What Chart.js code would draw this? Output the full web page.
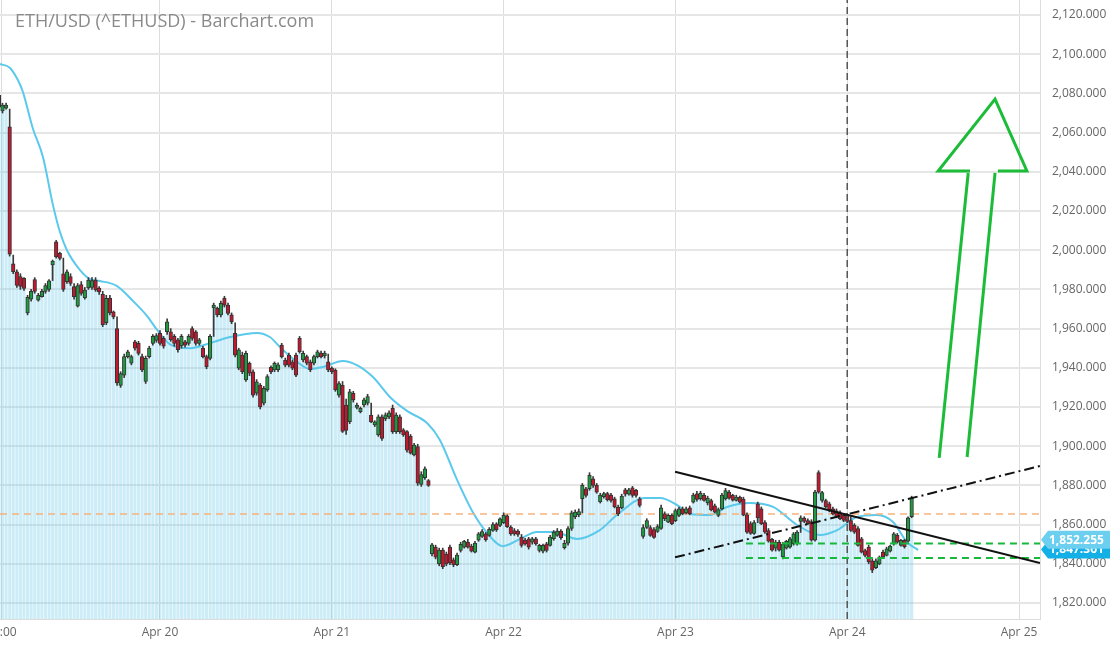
<!DOCTYPE html>
<html><head><meta charset="utf-8">
<script src="https://cdn.jsdelivr.net/npm/chart.js@4.4.1/dist/chart.umd.min.js"></script>
<style>html,body{margin:0;padding:0;background:#fff;overflow:hidden}#wrap{width:1110px;height:645px;position:relative}</style>
</head><body><div id="wrap"><canvas id="c"></canvas></div>
<script>
const chartTitle = 'ETH/USD (^ETHUSD) - Barchart.com';
// 30-minute candles, index 0 = Apr 20 00:00
const firstIndex = -45;
const opens = [
2079,2071,2072.5,2063,1993,1989,1986.5,1985.6,1968,1975,
1985,1974.5,1976.3,1979,1980,1992.5,2004.3,1998.4,1988,1984,
1986.5,1981.4,1971.5,1982.5,1975.6,1980.7,1981,1984.8,1980.7,1977.5,
1963,1975.6,1968.6,1960,1931,1936.3,1945.7,1942.3,1953.3,1952.5,
1945.7,1933,1945.7,1952.5,1954,1957.6,1955,1958.4,1958.4,1956,
1954.3,1951.2,1953.3,1952.5,1960,1958.4,1952.5,1950,1945.7,1944.8,
1970.5,1970.4,1967,1975.5,1972,1967,1957.6,1939.8,1946.5,1933.8,
1942.3,1938,1927,1931.2,1921.9,1928.7,1940.2,1938.9,1939,1951.6,
1944,1946.5,1943.1,1946.5,1955,1944,1945.7,1943.1,1942.3,1945.7,
1947.5,1946,1943.1,1939.8,1938.9,1926.1,1931,1921,1912.5,1927,
1919.8,1917.6,1921,1921.9,1915.9,1910.8,1905.7,1915,1914,1915,
1919.3,1907.4,1915,1908.3,1907.4,1905,1895.5,1899.8,1880.5,1884,
1882.5,1845,1848.5,1840,1847,1845,1848.5,1842,1839.5,1846.8,
1848.5,1851,1849,1846,1852,1854,1855.3,1854.5,1857,1860.4,
1859.6,1861,1864.5,1858.7,1857,1856.7,1853.6,1852,1852.8,1851,
1852.8,1846.8,1846.5,1850.2,1849.4,1852.8,1854.5,1856.7,1848.2,1850.5,
1858,1864,1865,1873.2,1878.3,1878.3,1883.4,1880,1871.6,1874.2,
1875.8,1875,1873.2,1869,1868.5,1877.8,1875.5,1878.7,1877.5,1873.2,
1854,1858.5,1858.5,1857.5,1856.5,1858,1865.5,1861.3,1864.7,1862,
1864.7,1868,1866,1868.5,1871.5,1875.7,1873.2,1874.9,1871,1872.3,
1869.6,1864.7,1868,1873.2,1876.5,1874.9,1872.3,1874,1873,1865,
1860.5,1855.5,1870.6,1868,1861,1857,1852.5,1848,1851,1843.5,
1848,1848.5,1850.2,1850.2,1861.6,1863.3,1862,1861.6,1852,1886.5,
1872.3,1872.3,1870.6,1868,1867,1866,1864.7,1864.7,1862,1859.6,
1858,1852.8,1846.8,1848.5,1841.5,1838,1840,1846,1844.3,1846.5,
1850.2,1854.5,1849.4,1852,1851.5,1864];
const highs = [
2080,2075,2075,2072,1997.5,1990,1988,1986,1977,1980,
1986,1978,1980,1983,1985,1995,2005,1999,1996,1990,
1988,1983,1983,1984,1981,1986,1986,1986,1981.5,1979,
1977,1977,1969,1966,1938,1947,1949,1946.5,1954,1953.5,
1947,1946,1951,1957,1957.5,1959,1956,1965,1960,1957,
1955,1957,1954,1957,1961,1959,1955,1951,1946.5,1957,
1973,1971,1974,1976.5,1973,1968,1963,1950,1948,1948.5,
1943,1939,1934,1932,1930.5,1936.5,1941,1943,1942.5,1952.5,
1945,1947.5,1944,1947.5,1956,1948.5,1946.5,1944,1946.5,1949,
1948.5,1948.5,1947,1940.5,1939.5,1933,1933,1924,1929,1928,
1922,1920,1924.5,1926.5,1922,1913,1916,1916,1917,1918,
1921,1917,1916,1909,1908,1906,1901.5,1901,1887,1889.5,
1883,1850.5,1849.5,1848,1848,1846,1849.5,1843,1845.5,1851,
1852,1852.5,1850,1851.5,1856,1857.5,1856,1858.5,1861,1861,
1863.5,1866,1865,1859.5,1858,1857.5,1855,1853,1853.5,1853.5,
1853.5,1850,1850,1851,1854.5,1857,1858,1857.5,1852,1859,
1867,1867.5,1868,1881,1879,1886.5,1884.5,1881,1876,1876.5,
1876.5,1876,1874,1870,1875.5,1878.5,1878.5,1879.5,1878,1874,
1860,1863,1859.5,1858.5,1860,1870,1866.5,1865.5,1865.5,1868,
1869,1869,1869,1869.5,1876,1877,1877,1876,1874.5,1873,
1870.5,1868.5,1876,1878.5,1877.5,1875.5,1875,1874.5,1874,1866,
1861.5,1862,1871.5,1869,1862,1858,1853,1852,1852,1851,
1852,1853.5,1856,1857,1864.5,1864,1863,1862.5,1877.5,1887.5,
1877,1873,1871.5,1869,1868,1867,1865.5,1865.5,1864,1860.5,
1859,1853.5,1847.5,1849.5,1842.5,1842.5,1844,1847,1848.5,1849.5,
1856,1855.5,1852.5,1852.5,1864,1874.5];
const lows = [
2072,2070,2072,1997,1988,1981,1980,1979.5,1967,1974,
1978,1974,1976,1978,1979,1984.5,1996,1995,1979,1983,
1982,1975,1971,1977,1975,1980,1980,1979,1977.5,1961,
1962,1967,1965,1931,1930,1935,1945,1941.5,1949,1946.5,
1938,1932,1945,1951.5,1953,1951.5,1950,1957,1953.5,1951,
1948,1950,1950.5,1951.5,1954,1951.5,1951.5,1945,1939.5,1944,
1956,1966,1966,1971,1967,1962.5,1945.5,1939,1937,1933,
1936,1925,1926,1919,1921,1928,1937,1938,1938,1945,
1940.5,1940.5,1939,1935.5,1947.5,1943,1941.5,1938,1941.5,1945,
1945,1945,1938,1937,1928,1925,1907,1906,1911.5,1922.5,
1919,1917,1920,1921,1912,1910,1905,1903,1913,1914,
1906.5,1906.5,1906.5,1905,1897,1896,1895,1880,1879.5,1883,
1879.5,1844,1842.5,1839,1837.5,1839,1839.5,1838.5,1839,1846,
1848,1848,1846,1845.5,1851.5,1853.5,1851.5,1854,1856.5,1856.5,
1859,1860.5,1858.5,1854.5,1854.5,1854,1848.5,1849.5,1847.5,1850,
1849.5,1846,1845.5,1846,1849,1852,1854,1852.5,1847.5,1849.5,
1857,1863,1864,1866,1874,1877.5,1879,1876,1871,1873.5,
1872,1871.5,1868.5,1864.5,1868,1874.5,1875,1874,1874,1869,
1853,1858,1854,1853,1856,1857.5,1862,1861,1860,1861.5,
1864,1865,1865.5,1865,1871,1872,1872.5,1872,1870,1867,
1866,1864,1867.5,1872.5,1873,1872,1872,1871,1864.5,1855.5,
1855,1855,1861,1860,1855.5,1851,1846.5,1846.5,1846.5,1842.5,
1847.5,1848,1849.5,1849.5,1856,1861,1860,1851.5,1851.5,1876,
1871.5,1868.5,1866.5,1865,1863.5,1862.5,1861.5,1861,1856.5,1855.5,
1849,1845.5,1843.5,1840,1835.5,1837.5,1839.5,1843,1844,1846,
1849.5,1850.5,1849,1848,1851,1863.5];
const closes = [
2073,2074,2074,1998,1989,1982,1981.5,1980.5,1976,1979,
1979,1977,1979,1982,1984.4,1994.5,1996.6,1995.8,1980,1989,
1983,1976.3,1982,1978,1979.7,1984.8,1984.5,1979.7,1978.7,1962,
1975.5,1968,1966,1932.3,1937,1945.7,1948.2,1945.7,1950,1947.4,
1938.9,1944.8,1950,1956,1956.5,1952.5,1951,1963.5,1954.3,1952.5,
1949.2,1956,1951.6,1956,1955,1952.5,1954.3,1945.7,1940.6,1956,
1972,1967,1972.9,1972,1967.8,1963.5,1946.5,1949.2,1938,1947.4,
1937.2,1926.1,1932.9,1920.1,1929.5,1935.5,1938,1942.3,1941.5,1945.7,
1941.4,1941.4,1939.8,1936.3,1948.2,1947.4,1942.3,1938.9,1945.7,1948.2,
1945.5,1947.5,1938.9,1938,1928.7,1932,1907.5,1908,1927.8,1923.6,
1921,1919.3,1923.6,1925.3,1912.4,1912.4,1915,1904,1916,1917,
1907.4,1915.9,1907.4,1905.7,1898,1896.5,1900.6,1881.1,1885.5,1888.5,
1880,1849.7,1843.4,1847,1838.5,1840,1840.5,1839.5,1844.5,1849.9,
1851.5,1848.5,1846.5,1850.6,1855.3,1856.5,1852.3,1857.6,1860,1857.4,
1863,1864.7,1859,1855.3,1855.3,1855,1849.4,1850.2,1848.5,1852.8,
1850.2,1849.4,1849.4,1846.8,1853.6,1856.2,1856.7,1853.3,1850.5,1858,
1866,1866.4,1866.7,1880,1874.9,1885.1,1880,1876.6,1875,1875.8,
1872.7,1872.4,1869,1865.5,1874.5,1875.5,1877.8,1874.9,1874.9,1869.8,
1858.5,1862,1854.5,1853.5,1859,1868.5,1863,1864.7,1860.5,1867.2,
1868,1865.5,1868,1865.5,1875,1872.8,1876,1872.4,1873.5,1867.5,
1866.4,1867.7,1875,1877.4,1873.5,1872.5,1874,1871.5,1864.8,1856.2,
1855.5,1861,1863.5,1860.5,1856.2,1851.5,1847,1851,1847,1850,
1851.5,1852.8,1855.3,1856.2,1863.5,1861.6,1860.5,1852,1876.6,1876.6,
1876.3,1869,1867.2,1865.5,1864,1863,1862.1,1861.6,1857,1856.2,
1849.4,1846,1844.3,1841,1836.8,1841.5,1843.4,1843.5,1847.7,1849,
1855.3,1851.1,1852,1848.8,1863.5,1873.5];

// smoothed moving average (index, price)
const maIndex = [-44.7,-41.9,-39.7,-38.3,-35.5,-32.7,-29.9,-27.9,-26,-22.4,-19.6,-16.8,-12,-7.5,-3.6,-0.8,2.8,8.4,14,19.6,27.1,30.7,33.5,38.3,41.9,45.5,51.1,55,59.5,64.3,69,74.6,78.2,83,87.5,91.4,95.8,100.6,105.3,110.4,116.5,122.9,127.7,135.5,139.7,144.5,148.1,153.7,158.4,164.8,171.3,178,184.4,189.2,194.7,200.3,204.8,208.7,211.8];
const maValue = [2095,2093,2086.8,2080.7,2062,2047.6,2023,2009,2000,1990,1985.3,1984.3,1981.7,1974,1966.4,1959.3,1952,1950,1952.6,1955.7,1957.8,1955.7,1950.6,1943,1939.4,1940.4,1943.5,1941.4,1935.3,1925,1918,1911.8,1903.2,1882.8,1866,1855.7,1849,1852.7,1856.2,1856.2,1852.7,1857.2,1865,1873.6,1873.6,1870,1865.4,1864.9,1869,1871,1869,1859.8,1854.7,1857.2,1863.9,1864.9,1861.3,1851.1,1847];

const xTickPos = [-44.3, 0, 48, 96, 144, 192, 240];
const xTickLabels = ['02:00', 'Apr 20', 'Apr 21', 'Apr 22', 'Apr 23', 'Apr 24', 'Apr 25'];
const yTickValues = [1820,1840,1860,1880,1900,1920,1940,1960,1980,2000,2020,2040,2060,2080,2100,2120];

const X_MIN = -44.7, X_MAX = 245.86, Y_MIN = 1811.84, Y_MAX = 2127.65;
const lastPrice = 1852.255, prevPrice = 1847.361;
const resistanceLevel = 1865.4;
const supportLevels = [1850.4, 1842.9];
const supportStart = 163.7;
const downTrend = [[143.9, 1887.0], [245.86, 1840.4]];
const upTrend = [[143.9, 1843.3], [245.86, 1889.9]];
const arrowHead = [[226.3, 2040.4], [217.4, 2040.4], [233.3, 2077.1], [242.2, 2040.4], [234.1, 2040.4]];
const arrowShaftLeft = [[225.8, 2039.4], [217.7, 1894.0]];
const arrowShaftRight = [[233.3, 2039.4], [225.5, 1894.5]];
const dayMarker = 192;

const GREEN = '#1f9a40', RED = '#c2182f', EDGE = '#333333';
const idx = opens.map((_, k) => firstIndex + k);
const bodyData = idx.map((x, k) => ({x, y: [opens[k], closes[k]]}));
const wickData = idx.map((x, k) => ({x, y: [lows[k], highs[k]]}));
const areaData = idx.map((x, k) => ({x, y: [Y_MIN, closes[k]]}));
const maData = maIndex.map((x, k) => ({x, y: maValue[k]}));
const pts = a => a.map(p => ({x: p[0], y: p[1]}));
const lineDs = (data, color, width, dash, order) => ({type: 'line', data, borderColor: color, borderWidth: width, borderDash: dash, pointRadius: 0, tension: 0, fill: false, order});

const fmt = v => v.toLocaleString('en-US', {minimumFractionDigits: 3, maximumFractionDigits: 3});

const overlay = {
  id: 'overlay',
  afterDraw(chart) {
    const ctx = chart.ctx, y = chart.scales.y, right = chart.chartArea.right, W = chart.width;
    ctx.save();
    ctx.font = '18px "Open Sans"';
    ctx.fillStyle = '#8a8a8a';
    ctx.textBaseline = 'middle';
    ctx.textAlign = 'left';
    ctx.fillText(chartTitle, 15, 22);
    const tag = (v, color) => {
      const yc = y.getPixelForValue(v);
      ctx.beginPath();
      ctx.moveTo(right + 1, yc);
      ctx.lineTo(right + 8, yc - 9);
      ctx.lineTo(W, yc - 9);
      ctx.lineTo(W, yc + 9);
      ctx.lineTo(right + 8, yc + 9);
      ctx.closePath();
      ctx.fillStyle = color;
      ctx.fill();
      ctx.fillStyle = '#ffffff';
      ctx.font = 'bold 12px "Open Sans"';
      ctx.textBaseline = 'middle';
      ctx.fillText(fmt(v), right + 9, yc + 0.5);
    };
    tag(prevPrice, '#12b0e6');
    tag(lastPrice, '#6ccff0');
    ctx.restore();
  }
};

Chart.defaults.font.family = '"Open Sans", sans-serif';
new Chart(document.getElementById('c'), {
  type: 'bar',
  data: {datasets: [
    {type: 'bar', data: areaData, backgroundColor: 'rgba(120,205,235,0.38)', borderWidth: 0, inflateAmount: 0, barPercentage: 0.86, categoryPercentage: 1, grouped: false, order: 10},
    {type: 'line', data: maData, borderColor: '#5bc9ec', borderWidth: 2, pointRadius: 0, tension: 0.4, cubicInterpolationMode: 'monotone', fill: false, order: 7},
    lineDs([{x: X_MIN, y: resistanceLevel}, {x: X_MAX, y: resistanceLevel}], '#f6b27c', 1.5, [7, 5], 6),
    {type: 'bar', data: wickData, backgroundColor: '#3a3a3a', borderWidth: 0, barThickness: 1, grouped: false, order: 3},
    {type: 'bar', data: bodyData, backgroundColor: c => (c.dataIndex !== undefined && closes[c.dataIndex] >= opens[c.dataIndex]) ? GREEN : RED,
      borderColor: EDGE, borderWidth: 1, borderSkipped: false, barThickness: 3.6, minBarLength: 2, grouped: false, order: 2},
    lineDs([{x: supportStart, y: supportLevels[0]}, {x: X_MAX, y: supportLevels[0]}], '#18b83a', 2, [7, 5], 1),
    lineDs([{x: supportStart, y: supportLevels[1]}, {x: X_MAX, y: supportLevels[1]}], '#18b83a', 2, [7, 5], 1),
    lineDs([{x: dayMarker, y: Y_MIN}, {x: dayMarker, y: Y_MAX}], '#555555', 1.5, [7, 4], 1),
    lineDs(pts(downTrend), '#111111', 2, [], 0),
    lineDs(pts(upTrend), '#111111', 2, [10, 4, 2, 4], 0),
    lineDs(pts(arrowHead), '#1cbc38', 3, [], 0),
    lineDs(pts(arrowShaftLeft), '#1cbc38', 3, [], 0),
    lineDs(pts(arrowShaftRight), '#1cbc38', 3, [], 0)
  ]},
  options: {
    responsive: true, maintainAspectRatio: false, animation: false, events: [],
    layout: {padding: 0},
    plugins: {legend: {display: false}, tooltip: {enabled: false}, title: {display: false}},
    scales: {
      x: {
        type: 'linear', min: X_MIN, max: X_MAX, offset: false,
        grid: {color: '#dcdcdc', lineWidth: 1, drawTicks: false, offset: false},
        border: {display: true, color: '#dcdcdc'},
        ticks: {autoSkip: false, maxRotation: 0, padding: 6, color: '#666', font: {size: 12}, callback: (v, i) => xTickLabels[i]},
        afterBuildTicks: s => { s.ticks = xTickPos.map(v => ({value: v})); },
        afterFit: s => { s.height = 26; s.paddingLeft = 0; s.paddingRight = 0; }
      },
      y: {
        type: 'linear', position: 'right', min: Y_MIN, max: Y_MAX,
        grid: {color: '#e6e6e6', lineWidth: 2, drawTicks: false, offset: false},
        border: {display: true, color: '#dcdcdc'},
        ticks: {padding: 12, color: '#666', font: {size: 12}, callback: v => fmt(v)},
        afterBuildTicks: s => { s.ticks = yTickValues.map(v => ({value: v})); },
        afterFit: s => { s.width = 70; s.paddingTop = 0; s.paddingBottom = 0; }
      }
    }
  },
  plugins: [overlay]
});
</script>
</body></html>
